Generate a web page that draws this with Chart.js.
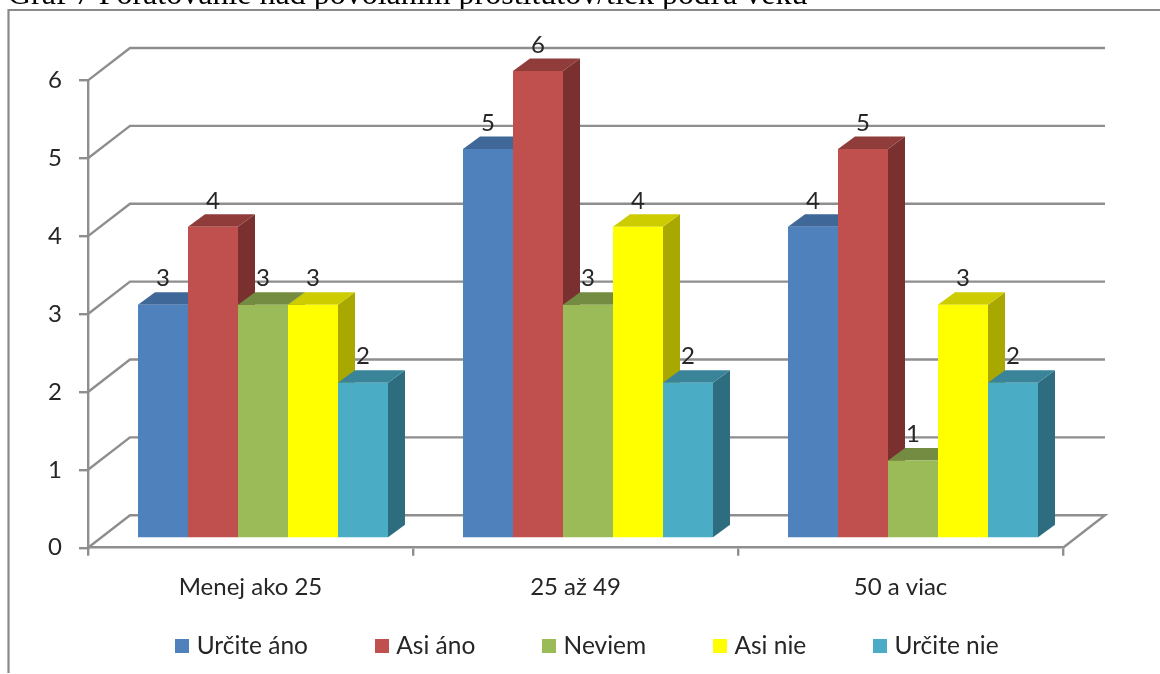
<!DOCTYPE html>
<html>
<head>
<meta charset="utf-8">
<style>html,body{margin:0;padding:0;background:#fff;overflow:hidden}canvas{display:block;filter:blur(0.45px)}</style>
<script src="https://cdn.jsdelivr.net/npm/chart.js@4"></script>
</head>
<body>
<canvas id="c" width="1160" height="674"></canvas>
<script>
const categories = ["Menej ako 25", "25 až 49", "50 a viac"];
const urciteAno = [3, 5, 4];
const asiAno = [4, 6, 5];
const neviem = [3, 3, 1];
const asiNie = [3, 4, 3];
const urciteNie = [2, 2, 2];
const seriesNames = ["Určite áno", "Asi áno", "Neviem", "Asi nie", "Určite nie"];
const seriesValues = [urciteAno, asiAno, neviem, asiNie, urciteNie];
const frontColors = ["#4F81BD", "#C0504D", "#9BBB59", "#FFFF00", "#4BACC6"];
const topColors = ["#3F6797", "#8F3C3A", "#748C42", "#CCCC00", "#3A8499"];
const sideColors = ["#2F4E72", "#7A302E", "#5E7136", "#A8A800", "#2E6D80"];
const titleText = "Graf 7 Porátovanie nad povolaním prostitútov/tiek podľa veku";
const gridColor = "#8E8E8E";
const textColor = "#262626";
const chartFont = "Lato, 'Open Sans', sans-serif";

const WALL = {dx: 42, dy: -32.4};   // depth of the back wall
const BAR_SHIFT = {dx: 12.5, dy: -9.3};  // bars stand inside the floor
const BAR_DEPTH = {dx: 17, dy: -12.5};   // depth of each bar
const LEGEND_GAP = 72;

function swatch(color) {
  const s = document.createElement("canvas");
  s.width = 14; s.height = 14;
  const g = s.getContext("2d");
  g.fillStyle = color; g.fillRect(0, 0, 14, 14);
  return s;
}
const swatches = frontColors.map(swatch);

const threeD = {
  id: "threeD",
  afterLayout(chart) {
    // title is cut off by the top of the page, legend centred under the plot
    const t = chart.titleBlock;
    t.top = -24; t.bottom = 14; t.left = 8; t.right = 900;
    const l = chart.legend;
    l.left += 58; l.right += 58;
    l.top = 646 - LEGEND_GAP - 12;
  },
  beforeDatasetsDraw(chart) {
    const {ctx, scales: {x, y}} = chart;
    ctx.save();
    // outer frame
    ctx.strokeStyle = "#8A8A8A"; ctx.lineWidth = 2.2;
    ctx.beginPath();
    ctx.moveTo(8.5, 673); ctx.lineTo(8.5, 10); ctx.lineTo(1160, 10);
    ctx.stroke();
    // back wall and side gridlines
    ctx.strokeStyle = gridColor; ctx.lineWidth = 2.4;
    y.ticks.forEach(t => {
      const py = y.getPixelForValue(t.value);
      ctx.beginPath();
      ctx.moveTo(x.left, py);
      ctx.lineTo(x.left + WALL.dx, py + WALL.dy);
      ctx.lineTo(x.right + WALL.dx, py + WALL.dy);
      if (t.value === 0) ctx.lineTo(x.right, py);
      ctx.stroke();
    });
    // bars, left to right, each with top and side
    ctx.translate(BAR_SHIFT.dx, BAR_SHIFT.dy);
    const d = BAR_DEPTH;
    for (let j = 0; j < categories.length; j++) {
      chart.data.datasets.forEach((ds, i) => {
        const bar = chart.getDatasetMeta(i).data[j];
        const left = bar.x - bar.width / 2, right = bar.x + bar.width / 2;
        ctx.fillStyle = sideColors[i];
        ctx.beginPath();
        ctx.moveTo(right, bar.y); ctx.lineTo(right + d.dx, bar.y + d.dy);
        ctx.lineTo(right + d.dx, bar.base + d.dy); ctx.lineTo(right, bar.base);
        ctx.closePath(); ctx.fill();
        ctx.fillStyle = topColors[i];
        ctx.beginPath();
        ctx.moveTo(left, bar.y); ctx.lineTo(left + d.dx, bar.y + d.dy);
        ctx.lineTo(right + d.dx, bar.y + d.dy); ctx.lineTo(right, bar.y);
        ctx.closePath(); ctx.fill();
        bar.draw(ctx);
      });
    }
    ctx.restore();
    // value labels
    ctx.save();
    ctx.font = "24px " + chartFont;
    ctx.fillStyle = textColor;
    ctx.textAlign = "center"; ctx.textBaseline = "middle";
    chart.data.datasets.forEach((ds, i) => {
      chart.getDatasetMeta(i).data.forEach((bar, j) => {
        ctx.fillText(String(ds.data[j]), bar.x + BAR_SHIFT.dx, bar.y + BAR_SHIFT.dy - 26);
      });
    });
    ctx.restore();
    return false;
  }
};

new Chart(document.getElementById("c"), {
  type: "bar",
  data: {
    labels: categories,
    datasets: seriesNames.map((name, i) => ({
      label: name,
      data: seriesValues[i],
      backgroundColor: frontColors[i],
      borderWidth: 0
    }))
  },
  options: {
    responsive: false,
    animation: false,
    devicePixelRatio: 1,
    categoryPercentage: 250 / 325,
    barPercentage: 1,
    layout: {padding: {left: 0, right: 97, top: 42, bottom: -51}},
    scales: {
      x: {
        grid: {color: gridColor, lineWidth: 2.4, drawOnChartArea: false, drawTicks: true, tickLength: 8, offset: true},
        border: {color: gridColor, width: 2.6},
        ticks: {color: textColor, font: {family: chartFont, size: 24}, padding: 17, maxRotation: 0}
      },
      y: {
        min: 0, max: 6,
        afterFit(s) { s.width = 88; },
        grid: {color: gridColor, lineWidth: 2.4, drawOnChartArea: false, drawTicks: true, tickLength: 9},
        border: {color: gridColor, width: 2.4},
        ticks: {stepSize: 1, color: textColor, font: {family: chartFont, size: 24}, padding: 17}
      }
    },
    plugins: {
      title: {
        display: true, text: titleText, align: "start", color: "#000",
        font: {family: "'Liberation Serif', serif", size: 32, weight: "normal"},
        padding: 0
      },
      tooltip: {enabled: false},
      legend: {
        position: "bottom",
        labels: {
          color: textColor, font: {family: chartFont, size: 24.5}, padding: LEGEND_GAP,
          boxHeight: 14, usePointStyle: true, pointStyleWidth: 4,
          generateLabels(chart) {
            return Chart.defaults.plugins.legend.labels.generateLabels(chart).map(item => ({
              ...item, pointStyle: swatches[item.datasetIndex]
            }));
          }
        }
      }
    }
  },
  plugins: [threeD]
});
</script>
</body>
</html>
